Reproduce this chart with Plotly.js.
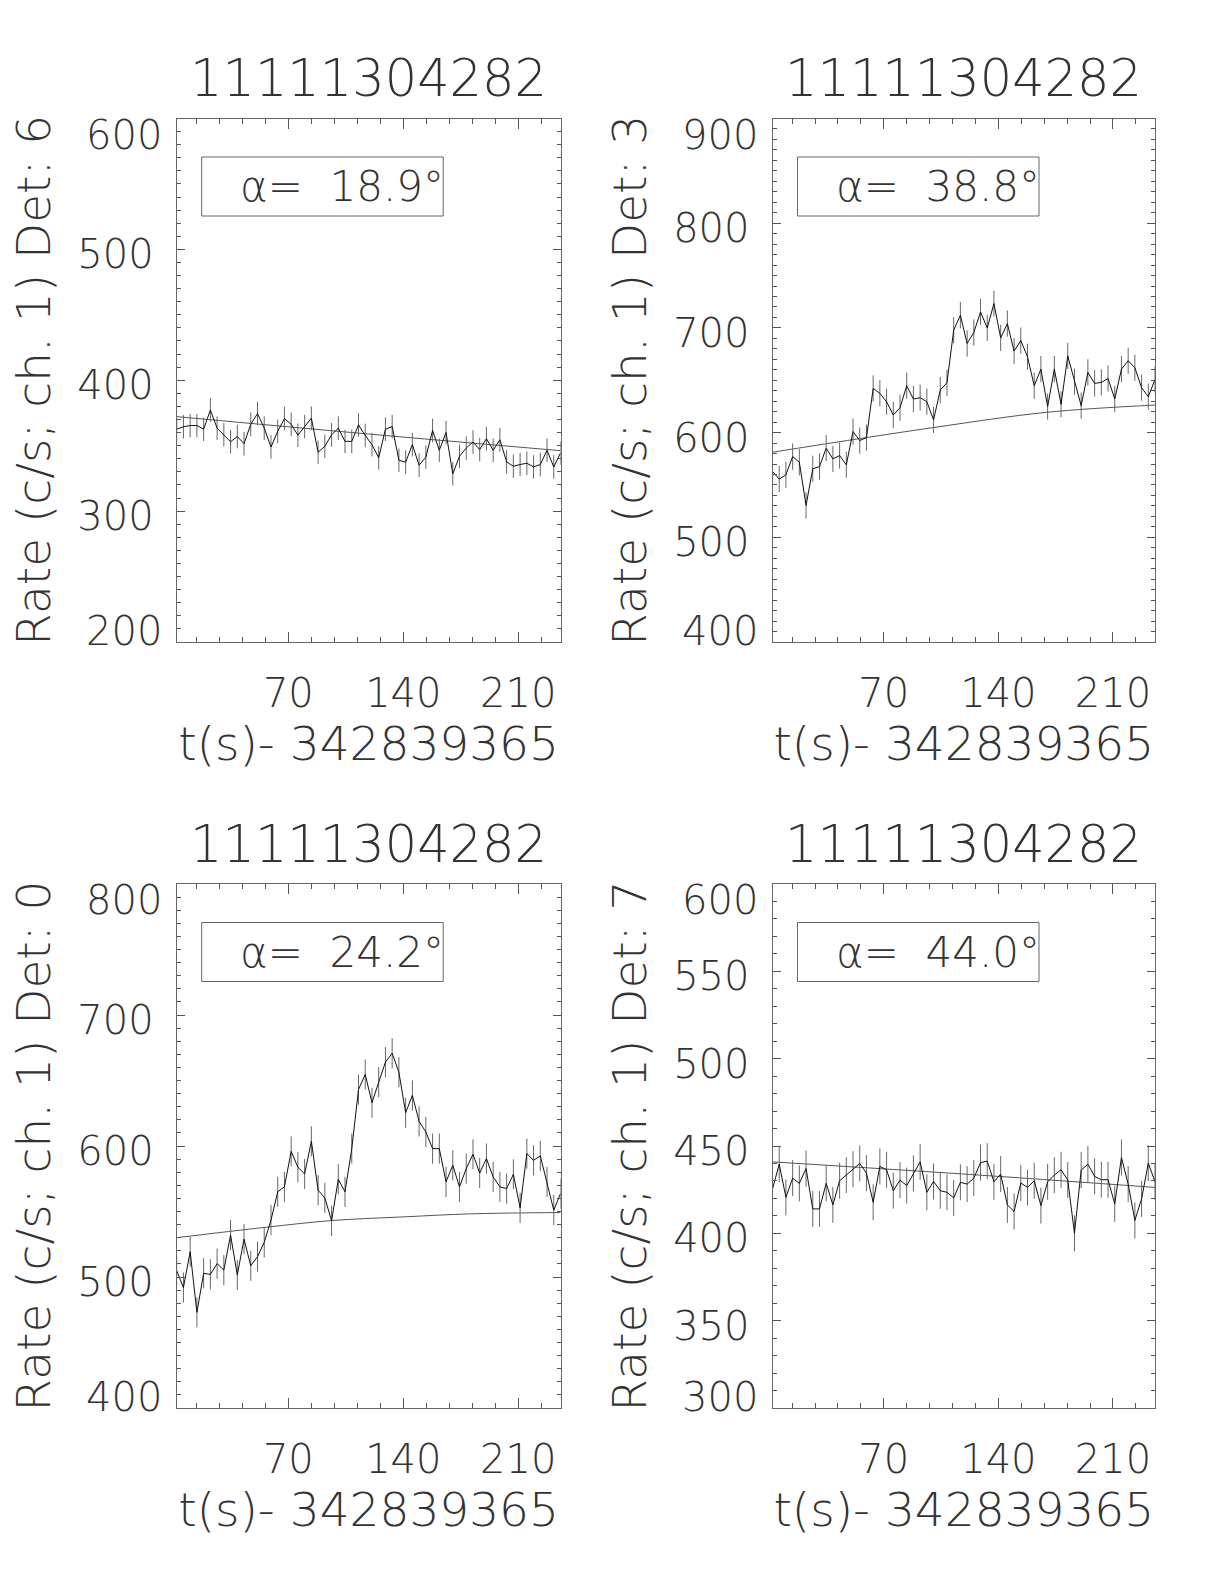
<!DOCTYPE html>
<html>
<head>
<meta charset="utf-8">
<script src="https://cdn.plot.ly/plotly-3.0.1.min.js"></script>
<style>html,body{margin:0;padding:0;background:#fff;}</style>
</head>
<body>
<div id="chart" style="width:1224px;height:1584px"></div>
<script>
// ---------------- data ----------------
const burstId = '11111304282';
const xTitle = 't(s)- 342839365';
const t = [2.0, 6.1, 10.2, 14.3, 18.4, 22.5, 26.6, 30.7, 34.8, 38.9, 43.0, 47.1, 51.2, 55.3, 59.4,
  63.5, 67.6, 71.7, 75.8, 79.9, 84.0, 88.1, 92.2, 96.3, 100.4, 104.5, 108.6, 112.7, 116.8, 120.9,
  125.0, 129.1, 133.2, 137.3, 141.4, 145.5, 149.6, 153.7, 157.8, 161.9, 166.0, 170.1, 174.2, 178.3,
  182.4, 186.5, 190.6, 194.7, 198.8, 202.9, 207.0, 211.1, 215.2, 219.3, 223.4, 227.5, 231.6, 235.7];

const dets = ['6', '3', '0', '7'];
const alphas = ['18.9', '38.8', '24.2', '44.0'];

const rate6 = [362.6, 364.4, 365.4, 365.4, 362.6, 377.3, 363.4, 358.3, 353.0, 357.0, 351.5, 366.4, 374.5, 363.4, 349.0,
  360.9, 370.7, 366.4, 358.0, 364.6, 371.0, 345.0, 349.5, 358.3, 363.4, 353.3, 353.3, 365.9, 357.8, 350.8,
  340.7, 362.6, 364.6, 338.9, 337.4, 350.8, 335.1, 341.2, 361.6, 346.5, 360.1, 328.5, 341.9, 348.2, 352.8,
  347.0, 355.3, 346.5, 354.5, 337.6, 334.3, 335.6, 336.6, 333.8, 335.6, 346.5, 333.8, 344.4];
const rate3 = [562.9, 555.6, 559.7, 577.1, 571.7, 530.5, 565.4, 567.6, 585.1, 574.9, 578.1, 569.2, 601.0, 592.4, 595.2,
  642.2, 637.5, 629.5, 616.8, 623.8, 644.8, 632.1, 633.3, 629.5, 612.1, 640.6, 647.6, 697.8, 712.1, 685.1,
  695.6, 715.2, 700.0, 723.2, 690.5, 704.1, 677.8, 687.9, 672.4, 644.8, 660.6, 624.8, 660.6, 627.0, 673.3,
  648.6, 625.7, 657.5, 647.0, 647.9, 651.7, 632.1, 660.6, 668.6, 661.9, 642.9, 634.3, 650.8];
const rate0 = [504.8, 491.9, 519.3, 473.0, 502.8, 502.0, 510.2, 505.3, 532.0, 501.5, 528.9, 508.6, 515.5, 526.4, 543.4,
  565.0, 568.8, 595.9, 583.8, 578.7, 603.6, 566.2, 560.4, 542.9, 574.6, 565.0, 598.0, 643.1, 654.6, 633.0,
  648.7, 664.0, 670.8, 656.3, 625.4, 638.6, 618.8, 610.7, 598.0, 598.0, 572.6, 585.3, 568.8, 582.7, 593.7,
  579.4, 590.4, 576.4, 568.8, 567.5, 578.4, 552.8, 594.2, 589.1, 592.4, 572.6, 551.0, 563.7];
const rate7 = [425.4, 439.6, 420.6, 431.6, 428.6, 437.1, 414.0, 414.0, 428.6, 416.3, 430.1, 433.3, 436.7, 440.0, 434.5,
  417.8, 438.3, 436.4, 424.4, 430.5, 427.3, 434.3, 440.9, 423.5, 429.7, 424.4, 423.5, 420.3, 429.2, 428.2,
  431.6, 440.5, 441.3, 429.5, 433.9, 416.3, 412.5, 428.8, 426.3, 430.1, 415.9, 429.5, 433.3, 436.4, 430.5,
  400.0, 436.2, 439.6, 432.6, 430.7, 430.7, 416.9, 443.4, 428.2, 407.4, 419.7, 440.2, 429.5];
const errs = [9.0, 12.5, 11.5, 10.3];

// background fits (read at a few times)
const fitT6 = [2.0, 118.0, 235.7];          const fit6 = [372.2, 359.0, 346.2];
const fitT3 = [2.0, 100.2, 169.7, 235.7];   const fit3 = [581.3, 604.8, 619.4, 626.3];
const fitT0 = [2.0, 55.2, 96.5, 140.3, 180.9, 235.7]; const fit0 = [530.0, 537.8, 543.1, 545.9, 548.2, 549.2];
const fitT7 = [2.0, 118.0, 235.7];          const fit7 = [440.9, 434.0, 426.3];

const yTicks6 = [200, 300, 400, 500, 600];
const yTicks3 = [400, 500, 600, 700, 800, 900];
const yTicks0 = [400, 500, 600, 700, 800];
const yTicks7 = [300, 350, 400, 450, 500, 550, 600];
const xTicks = [70, 140, 210];

// ---------------- layout ----------------
const W = 1224, H = 1584;
const FONT = 'DejaVu Sans';
const TXT = '#333';
const panels = [
  {rate: rate6, fitT: fitT6, fit: fit6, ticks: yTicks6, minor: 10, xd: [176.7, 560.5], yd: [118.5, 642]},
  {rate: rate3, fitT: fitT3, fit: fit3, ticks: yTicks3, minor: 10, xd: [772.5, 1155], yd: [118.5, 642]},
  {rate: rate0, fitT: fitT0, fit: fit0, ticks: yTicks0, minor: 10, xd: [176.7, 560.5], yd: [884, 1408]},
  {rate: rate7, fitT: fitT7, fit: fit7, ticks: yTicks7, minor: 10, xd: [772.5, 1155], yd: [884, 1408]}
];
const px = x => x / W;
const py = y => 1 - y / H;

const data = [];
const layout = {
  width: W, height: H,
  margin: {l: 0, r: 0, t: 0, b: 0},
  paper_bgcolor: '#fff', plot_bgcolor: '#fff',
  showlegend: false,
  annotations: [], shapes: []
};

panels.forEach((p, i) => {
  const n = i === 0 ? '' : String(i + 1);
  const xa = 'x' + n, ya = 'y' + n;
  const tf = {family: FONT, size: 40, color: TXT, weight: 200};

  data.push({x: p.fitT, y: p.fit, xaxis: xa, yaxis: ya, type: 'scatter', mode: 'lines',
    line: {color: '#555', width: 1, shape: 'spline'}, hoverinfo: 'skip'});
  data.push({x: t, y: p.rate, xaxis: xa, yaxis: ya, type: 'scatter', mode: 'lines',
    line: {color: '#111', width: 1},
    error_y: {type: 'constant', value: errs[i], thickness: 1, width: 0, color: '#666'}});

  const lo = p.ticks[0], hi = p.ticks[p.ticks.length - 1];
  layout['xaxis' + n] = {
    domain: [px(p.xd[0]), px(p.xd[1])], anchor: ya, range: [2.0, 235.7],
    tickmode: 'array', tickvals: xTicks, ticktext: xTicks.map(String),
    ticks: 'inside', ticklen: 10, tickwidth: 1, tickcolor: '#555',
    minor: {tickmode: 'linear', tick0: 0, dtick: 14, ticks: 'inside', ticklen: 5, tickcolor: '#555', showgrid: false},
    mirror: 'allticks', showline: true, linecolor: '#666', linewidth: 1,
    showgrid: false, zeroline: false, automargin: false, fixedrange: true,
    tickfont: tf, ticklabelstandoff: 16,
    title: {text: xTitle, font: {family: FONT, size: 47, color: TXT, weight: 200}, standoff: 10}
  };
  layout['yaxis' + n] = {
    domain: [py(p.yd[1]), py(p.yd[0])], anchor: xa, range: [lo, hi],
    tickmode: 'array', tickvals: p.ticks,
    ticktext: p.ticks.map((v, k) => (k === 0 || k === p.ticks.length - 1) ? '' : String(v)),
    ticks: 'inside', ticklen: 8, tickwidth: 1, tickcolor: '#555',
    minor: {tickmode: 'linear', tick0: 0, dtick: p.minor, ticks: 'inside', ticklen: 4, tickcolor: '#555', showgrid: false},
    mirror: 'allticks', showline: true, linecolor: '#666', linewidth: 1,
    showgrid: false, zeroline: false, automargin: false, fixedrange: true,
    tickfont: tf, ticklabelstandoff: 14, ticklabelshift: 5,
    title: {text: 'Rate (c/s; ch. 1) Det: ' + dets[i], font: {family: FONT, size: 47, color: TXT, weight: 200}, standoff: 11}
  };
  // end tick labels (shifted inward as in the original)
  [[lo, 11], [hi, -16]].forEach(([v, sh]) => {
    layout.annotations.push({text: String(v), x: px(p.xd[0]), xref: 'paper', xanchor: 'right', xshift: -14,
      y: v, yref: ya, yanchor: 'middle', yshift: sh, showarrow: false, font: tf, borderpad: 0});
  });
  // panel title
  layout.annotations.push({text: burstId, x: px((p.xd[0] + p.xd[1]) / 2), y: py(p.yd[0] - 39.7),
    xref: 'paper', yref: 'paper', xanchor: 'center', yanchor: 'middle', showarrow: false,
    font: {family: FONT, size: 51, color: TXT, weight: 200}});
  // alpha box
  layout.shapes.push({type: 'rect', xref: 'paper', yref: 'paper',
    x0: px(p.xd[0] + 25), x1: px(p.xd[0] + 266.5), y0: py(p.yd[0] + 38.5), y1: py(p.yd[0] + 97.5),
    line: {color: '#666', width: 1}, fillcolor: 'rgba(0,0,0,0)'});
  layout.annotations.push({text: 'α=\u00a0\u00a0' + alphas[i] + '°',
    x: px(p.xd[0] + 165), y: py(p.yd[0] + 68), xref: 'paper', yref: 'paper',
    xanchor: 'center', yanchor: 'middle', showarrow: false,
    font: {family: FONT, size: 42, color: TXT, weight: 200}});
});

Plotly.newPlot('chart', data, layout, {staticPlot: true, displayModeBar: false});
</script>
</body>
</html>
